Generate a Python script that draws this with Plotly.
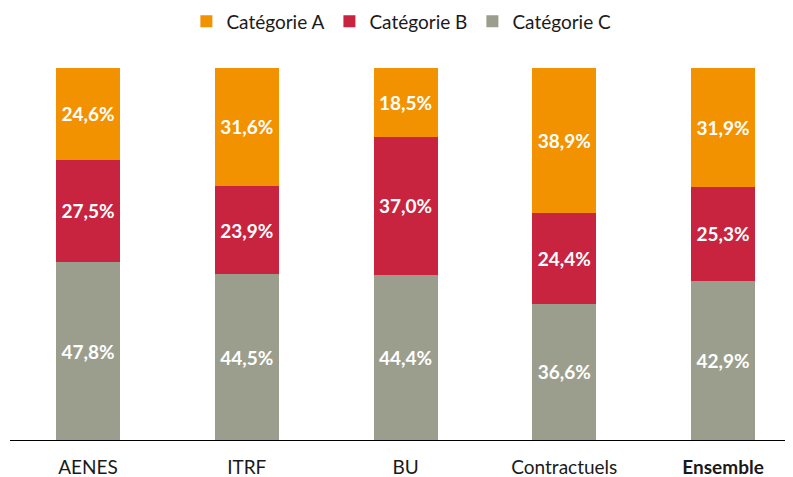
import plotly.graph_objects as go

categories = ["AENES", "ITRF", "BU", "Contractuels", "<b>Ensemble</b>"]
cat_a = [24.6, 31.6, 18.5, 38.9, 31.9]
cat_b = [27.5, 23.9, 37.0, 24.4, 25.3]
cat_c = [47.8, 44.5, 44.4, 36.6, 42.9]

series = [
    ("Catégorie C", cat_c, "#9B9E8D"),
    ("Catégorie B", cat_b, "#C8243F"),
    ("Catégorie A", cat_a, "#F39200"),
]

def fmt(v):
    return f"{v:.1f}%".replace(".", ",")

fig = go.Figure()
xs = list(range(len(categories)))
for name, vals, color in series:
    fig.add_trace(go.Bar(
        x=xs, y=vals, name=name,
        marker=dict(color=color, line=dict(width=0)),
        width=0.403,
        text=[fmt(v) for v in vals],
        textposition="inside",
        insidetextanchor="middle",
        textangle=0,
        textfont=dict(color="white", size=19, family="Lato", weight="bold"),
        constraintext="none",
        hoverinfo="skip",
    ))

fig.update_layout(
    barmode="stack",
    barnorm="percent",
    width=793, height=477,
    margin=dict(l=10, r=8, t=68, b=37, autoexpand=False),
    paper_bgcolor="white",
    plot_bgcolor="white",
    font=dict(family="Lato", size=19, color="#1a1a1a"),
    legend=dict(
        orientation="h", x=0.505, xanchor="center", y=0.995, yanchor="top",
        yref="container", traceorder="reversed",
        font=dict(size=19), itemwidth=30,
    ),
    showlegend=True,
)
fig.update_xaxes(
    tickmode="array", tickvals=xs, ticktext=categories,
    range=[-0.491, 4.39], showgrid=False, zeroline=False,
    showline=True, linecolor="black", linewidth=1.3,
    ticks="", ticklabelstandoff=10, tickfont=dict(size=19),
    automargin=False,
)
fig.update_yaxes(range=[0, 100], visible=False, showgrid=False, automargin=False)

fig.write_html("out.html", config={"displayModeBar": False},
               post_script="document.body.style.margin='0';")
